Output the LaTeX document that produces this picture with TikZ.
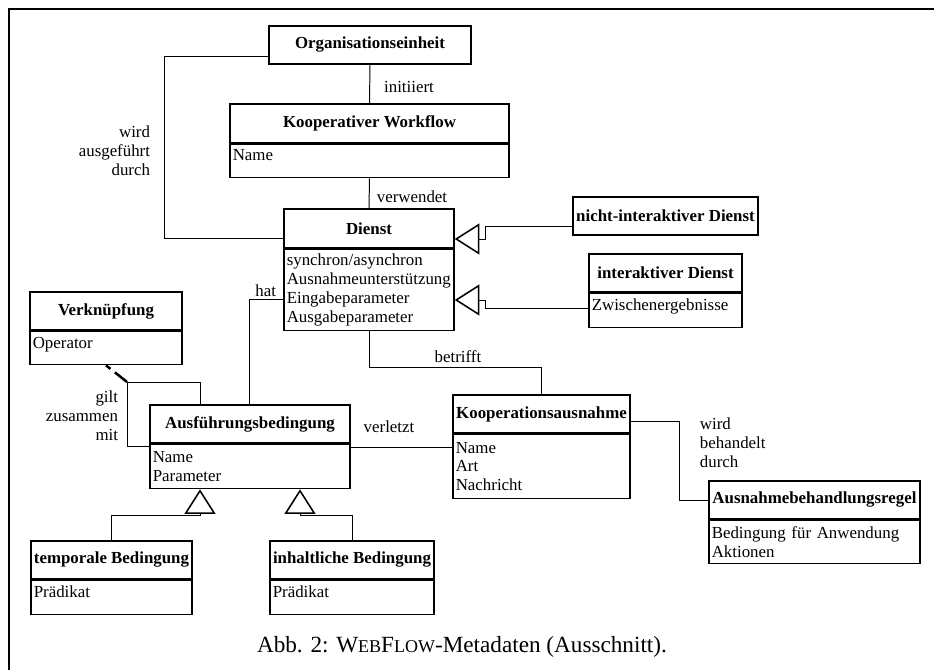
\documentclass[tikz,border=0pt]{standalone}
\usepackage{fontspec}
\setmainfont{Liberation Serif}
\usetikzlibrary{arrows.meta}

\newcommand{\kapit}[1]{{\fontsize{12.8}{15}\selectfont #1}}

\tikzset{
    klasse/.style 2 args={draw, line width=1.1pt, font=\fontsize{12}{13.5}\selectfont\bfseries,
        minimum width=#1*0.25mm, minimum height=#2*0.25mm, inner sep=0pt},
    attribute/.style 2 args={draw, line width=1.1pt, anchor=north west, align=left,
        minimum width=#1*0.25mm, minimum height=#2*0.25mm, text width=#1*0.25mm-4pt,
        inner xsep=2pt, inner ysep=0pt},
    einzeilig/.style={text depth=8pt},
    beziehung/.style={line width=0.7pt},
    generalisierung/.style={beziehung, -{Triangle[open, length=17.5pt, width=22pt, line width=1.1pt]}}
}

\begin{document}
\begin{tikzpicture}[x=0.25mm, y=-0.25mm, font=\fontsize{12}{13.5}\selectfont]
    \useasboundingbox (0,0) rectangle (934,670);
    % Rahmen
    \draw[line width=2.1pt] (9,672) -- (9,9) -- (936,9);

    % Klassen
    \node[klasse={202}{38}] (org) at (370,45) {Organisationseinheit};

    \node[klasse={279}{39}] (kw) at (369.5,123.5) {Kooperativer Workflow};
    \node[attribute={279}{33}, einzeilig] (kw-attr) at (kw.south west) {Name};

    \node[klasse={170}{39}] (dienst) at (369,228.5) {Dienst};
    \node[attribute={170}{81}] (dienst-attr) at (dienst.south west)
        {synchron/asynchron\\Ausnahmeunterstützung\\Eingabeparameter\\Ausgabeparameter};

    \node[klasse={185}{38}] (nid) at (665.5,216) {nicht-interaktiver Dienst};

    \node[klasse={153}{38}] (id) at (665.5,273) {interaktiver Dienst};
    \node[attribute={153}{34}, einzeilig] (id-attr) at (id.south west) {Zwischenergebnisse};

    \node[klasse={152}{38}] (verkn) at (106,311) {Verknüpfung};
    \node[attribute={152}{33}, einzeilig] (verkn-attr) at (verkn.south west) {Operator};

    \node[klasse={200}{38}] (ab) at (250,424) {Ausführungsbedingung};
    \node[attribute={200}{44}] (ab-attr) at (ab.south west) {Name\\Parameter};

    \node[klasse={177}{38}] (ka) at (541.5,414) {Kooperationsausnahme};
    \node[attribute={177}{64}] (ka-attr) at (ka.south west) {Name\\Art\\Nachricht};

    \node[klasse={211}{38}] (ar) at (814.5,500) {Ausnahmebehandlungsregel};
    \node[attribute={211}{43}] (ar-attr) at (ar.south west) {Bedingung für Anwendung\\Aktionen};

    \node[klasse={161}{38}] (temp) at (111.5,560) {temporale Bedingung};
    \node[attribute={161}{34}, einzeilig] (temp-attr) at (temp.south west) {Prädikat};

    \node[klasse={164}{38}] (inh) at (352,560) {inhaltliche Bedingung};
    \node[attribute={164}{34}, einzeilig] (inh-attr) at (inh.south west) {Prädikat};

    % Assoziationen
    \draw[beziehung] (org.south) -- (kw.north);
    \node[anchor=base] (l-init) at (409,93) {initiiert};

    \draw[beziehung] (kw-attr.south) -- (dienst.north);
    \node[anchor=base] (l-verw) at (412,203) {verwendet};

    \draw[beziehung] (org.west |- 0,56) -| (164,238) -- (dienst.west |- 0,238);
    \node[anchor=east, align=right] (l-ausg) at (155,151) {wird\\ausgeführt\\durch};

    \draw[beziehung] (dienst-attr.west |- 0,299) -| (ab.north -| 249,0);
    \node[anchor=base east] (l-hat) at (281,297) {hat};

    \coordinate (ecke) at (127,382);
    \draw[beziehung] (ab.north -| 200,0) |- (ecke) |- (ab-attr.west |- 0,446);
    \node[anchor=east, align=right] (l-gilt) at (123,416) {gilt\\zusammen\\mit};
    \draw[line width=1.8pt, dash pattern=on 11pt off 4pt] (ecke) -- (verkn-attr.south);

    \draw[beziehung] (ab-attr.east |- 0,447) -- (ka-attr.west |- 0,447);
    \node[anchor=base] (l-verl) at (389,433) {verletzt};

    \draw[beziehung] (dienst-attr.south) |- (ka.north |- 0,367) -- (ka.north);
    \node[anchor=base] (l-betr) at (458,363) {betrifft};

    \draw[beziehung] (ka.east |- 0,421) -| (679,0 |- ar.west) -- (ar.west);
    \node[anchor=west, align=left] (l-behd) at (695,443) {wird\\behandelt\\durch};

    % Generalisierungen
    \coordinate (spitze1) at (dienst.east |- 0,239);
    \coordinate (spitze2) at (dienst-attr.east |- 0,300);
    \draw[generalisierung] (nid.west |- 0,226) -| (485,239) -- (spitze1);
    \draw[generalisierung] (id-attr.west |- 0,308) -| (485,300) -- (spitze2);

    \draw[generalisierung] (temp.north) |- (200,515) -- (ab-attr.south -| 200,0);
    \draw[generalisierung] (inh.north) |- (300,515) -- (ab-attr.south -| 300,0);

    % Bildunterschrift
    \node[anchor=base, font=\fontsize{16.5}{19}\selectfont] (titel) at (462,653)
        {Abb. 2: W\kapit{EB}F\kapit{LOW}-Metadaten (Ausschnitt).};
\end{tikzpicture}
\end{document}
